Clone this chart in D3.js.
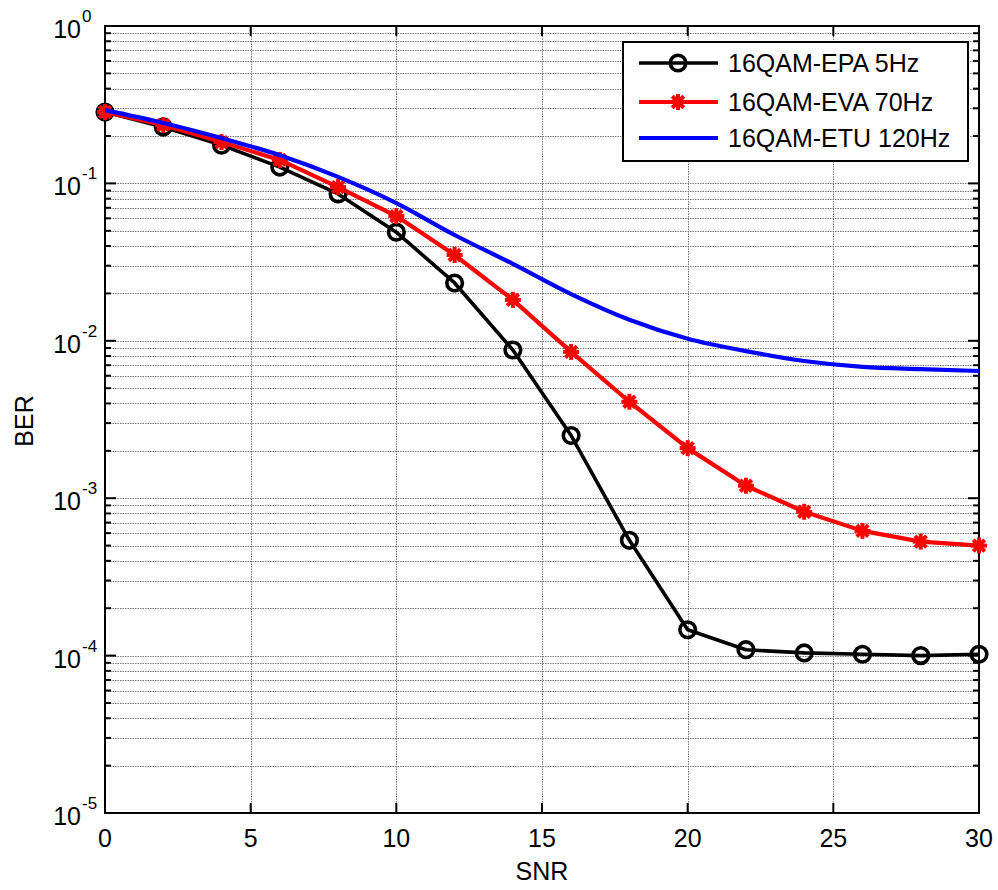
<!DOCTYPE html>
<html>
<head>
<meta charset="utf-8">
<script src="https://cdn.jsdelivr.net/npm/d3@7"></script>
<style>
  html, body { margin: 0; padding: 0; background: #fff; }
  svg { display: block; font-family: "Liberation Sans", Arial, sans-serif; }
</style>
</head>
<body>
<svg id="chart" width="998" height="890"></svg>
<script>
// SNR sample points (dB)
const snr = [0, 2, 4, 6, 8, 10, 12, 14, 16, 18, 20, 22, 24, 26, 28, 30];

// BER curves
const berEPA = [0.284, 0.228, 0.175, 0.127, 0.0857, 0.049, 0.0233, 0.00874, 0.0025, 0.00054,
                0.000146, 0.000109, 0.000104, 0.000102, 0.0001, 0.000102];
const berEVA = [0.284, 0.235, 0.183, 0.141, 0.0948, 0.062, 0.0351, 0.0182, 0.0085, 0.0041,
                0.00208, 0.0012, 0.00082, 0.00062, 0.00053, 0.0005];
const berETU = [0.292, 0.242, 0.194, 0.151, 0.11, 0.075, 0.047, 0.0308, 0.0198, 0.0136,
                0.0103, 0.0086, 0.00744, 0.00682, 0.0066, 0.00643];

const seriesNames = ["16QAM-EPA 5Hz", "16QAM-EVA 70Hz", "16QAM-ETU 120Hz"];
const xTicks = [0, 5, 10, 15, 20, 25, 30];
const yExponents = [0, -1, -2, -3, -4, -5];

const svg = d3.select("#chart");
const L = 105, R = 979, T = 26, B = 813;
const FS = 25;

const x = d3.scaleLinear().domain([0, 30]).range([L, R]);
const y = d3.scaleLog().domain([1e-5, 1]).range([B, T]);

// grid
const grid = svg.append("g").attr("stroke", "#7a7a7a").attr("stroke-width", 1)
  .attr("stroke-dasharray", "1.5,1");
const minorVals = [];
for (let e = -5; e < 0; e++) for (let m = 2; m <= 9; m++) minorVals.push(m * Math.pow(10, e));
const majorVals = yExponents.map(e => Math.pow(10, e));
grid.selectAll("line.ym").data(minorVals.concat(majorVals.slice(1, 5))).join("line")
  .attr("x1", L).attr("x2", R)
  .attr("y1", d => Math.round(y(d)) + 0.5).attr("y2", d => Math.round(y(d)) + 0.5);
grid.selectAll("line.xg").data(xTicks.slice(1, -1)).join("line")
  .attr("y1", T).attr("y2", B)
  .attr("x1", d => Math.round(x(d)) + 0.5).attr("x2", d => Math.round(x(d)) + 0.5);

// ticks (inward on all four sides)
const ticks = svg.append("g").attr("stroke", "#000").attr("stroke-width", 2);
majorVals.forEach(v => {
  const yy = y(v);
  ticks.append("line").attr("x1", L).attr("x2", L + 11).attr("y1", yy).attr("y2", yy);
  ticks.append("line").attr("x1", R).attr("x2", R - 11).attr("y1", yy).attr("y2", yy);
});
minorVals.forEach(v => {
  const yy = y(v);
  ticks.append("line").attr("x1", L).attr("x2", L + 6).attr("y1", yy).attr("y2", yy);
  ticks.append("line").attr("x1", R).attr("x2", R - 6).attr("y1", yy).attr("y2", yy);
});
xTicks.forEach(v => {
  const xx = x(v);
  ticks.append("line").attr("x1", xx).attr("x2", xx).attr("y1", B).attr("y2", B - 10);
  ticks.append("line").attr("x1", xx).attr("x2", xx).attr("y1", T).attr("y2", T + 10);
});

// frame
svg.append("rect").attr("x", L).attr("y", T).attr("width", R - L).attr("height", B - T)
  .attr("fill", "none").attr("stroke", "#000").attr("stroke-width", 2);

// x tick labels
svg.append("g").selectAll("text").data(xTicks).join("text")
  .attr("x", d => x(d)).attr("y", 847).attr("text-anchor", "middle")
  .attr("font-size", FS).attr("fill", "#000").text(d => d);

// y tick labels as 10^n
const yl = svg.append("g");
yExponents.forEach(e => {
  const yy = y(Math.pow(10, e));
  yl.append("text").attr("x", 81).attr("y", yy + 12).attr("text-anchor", "end")
    .attr("font-size", FS).attr("fill", "#000").text("10");
  yl.append("text").attr("x", 82).attr("y", yy - 4).attr("text-anchor", "start")
    .attr("font-size", 17).attr("fill", "#000").text(String(e));
});

// axis titles
svg.append("text").attr("x", (L + R) / 2).attr("y", 880).attr("text-anchor", "middle")
  .attr("font-size", FS).text("SNR");
svg.append("text").attr("transform", "translate(33,421) rotate(-90)")
  .attr("text-anchor", "middle").attr("font-size", FS).text("BER");

// curves
const line = d3.line().x(d => x(d[0])).y(d => y(d[1]));
const etu = snr.map((s, i) => [s, berETU[i]]);
const eva = snr.map((s, i) => [s, berEVA[i]]);
const epa = snr.map((s, i) => [s, berEPA[i]]);
const smooth = d3.line().x(d => x(d[0])).y(d => y(d[1])).curve(d3.curveMonotoneX);

function asterisk(g, cx, cy, s, color) {
  const d = s, dd = s * 0.72;
  const m = g.append("g").attr("stroke", color).attr("stroke-width", 4).attr("stroke-linecap", "butt");
  m.append("line").attr("x1", cx - d).attr("x2", cx + d).attr("y1", cy).attr("y2", cy);
  m.append("line").attr("x1", cx).attr("x2", cx).attr("y1", cy - d).attr("y2", cy + d);
  m.append("line").attr("x1", cx - dd).attr("x2", cx + dd).attr("y1", cy - dd).attr("y2", cy + dd);
  m.append("line").attr("x1", cx - dd).attr("x2", cx + dd).attr("y1", cy + dd).attr("y2", cy - dd);
  m.append("circle").attr("cx", cx).attr("cy", cy).attr("r", 4).attr("fill", color).attr("stroke", "none");
}

const plot = svg.append("g");
plot.append("path").datum(epa).attr("d", line).attr("fill", "none")
  .attr("stroke", "#000").attr("stroke-width", 3.6).attr("stroke-linejoin", "round");
plot.selectAll("circle.epa").data(epa).join("circle")
  .attr("cx", d => x(d[0])).attr("cy", d => y(d[1])).attr("r", 7.8)
  .attr("fill", "none").attr("stroke", "#000").attr("stroke-width", 3.6);

plot.append("path").datum(eva).attr("d", line).attr("fill", "none")
  .attr("stroke", "#ff0000").attr("stroke-width", 4.2).attr("stroke-linejoin", "round");
eva.forEach(d => asterisk(plot, x(d[0]), y(d[1]), 8, "#ff0000"));

plot.append("path").datum(etu).attr("d", smooth).attr("fill", "none")
  .attr("stroke", "#0000ff").attr("stroke-width", 4.2).attr("stroke-linejoin", "round");

// legend
const lg = svg.append("g");
lg.append("rect").attr("x", 623).attr("y", 42).attr("width", 345).attr("height", 119)
  .attr("fill", "#fff").attr("stroke", "#000").attr("stroke-width", 2);
const legY = [63, 102, 138];
const legColors = ["#000", "#ff0000", "#0000ff"];
const legWidths = [3.6, 4.2, 4.2];
seriesNames.forEach((name, i) => {
  lg.append("line").attr("x1", 639).attr("x2", 718).attr("y1", legY[i]).attr("y2", legY[i])
    .attr("stroke", legColors[i]).attr("stroke-width", legWidths[i]);
  lg.append("text").attr("x", 728).attr("y", legY[i] + 9).attr("font-size", FS).text(name);
});
lg.append("circle").attr("cx", 678).attr("cy", legY[0]).attr("r", 7.8)
  .attr("fill", "none").attr("stroke", "#000").attr("stroke-width", 3.6);
asterisk(lg, 678, legY[1], 8, "#ff0000");
</script>
</body>
</html>
